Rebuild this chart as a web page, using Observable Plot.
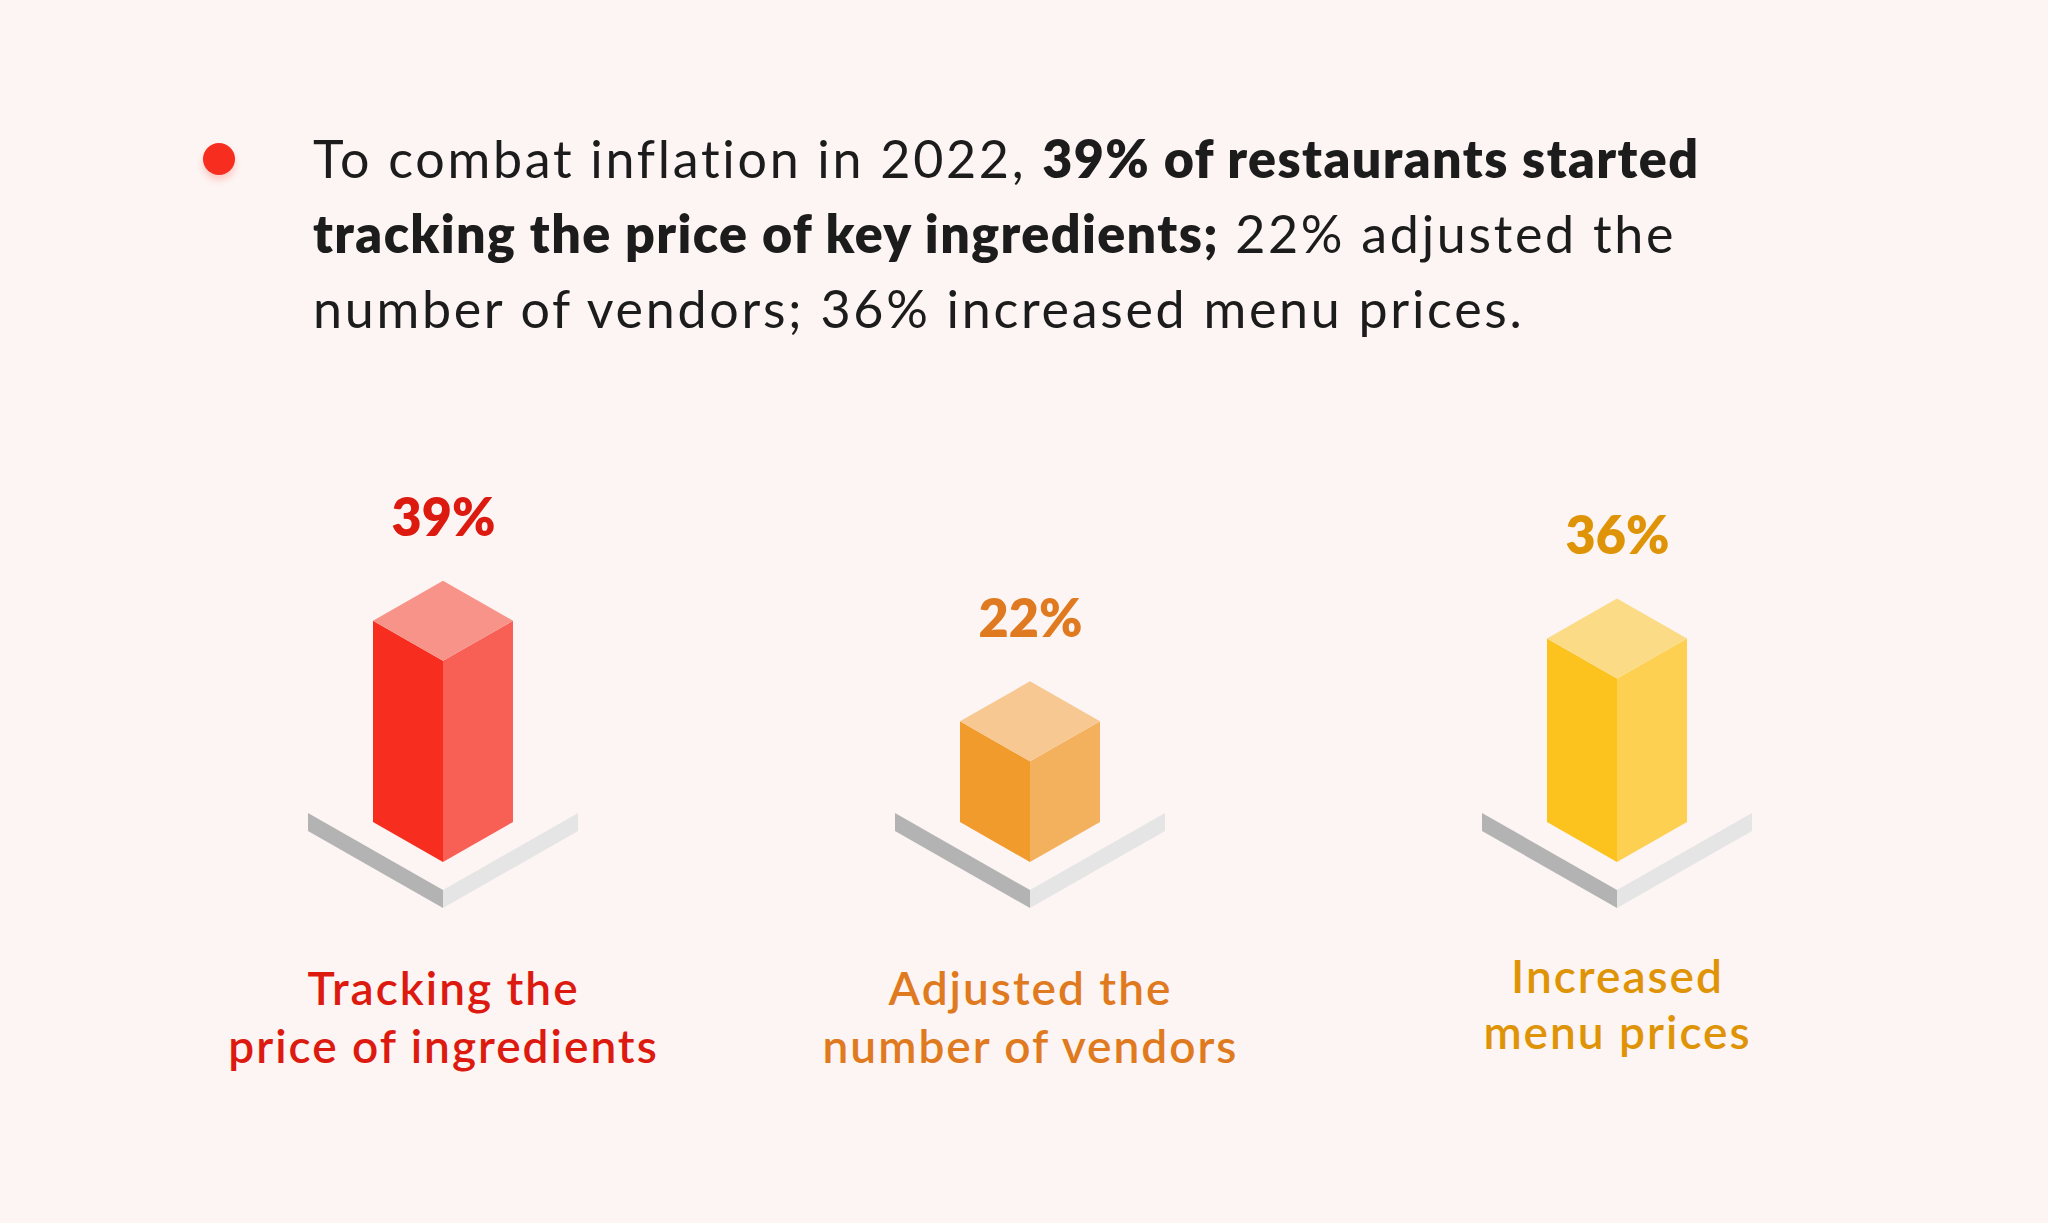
<!DOCTYPE html>
<html><head><meta charset="utf-8">
<script src="https://cdn.jsdelivr.net/npm/d3@7"></script>
<script src="https://cdn.jsdelivr.net/npm/@observablehq/plot@0.6"></script>
<style>
html,body{margin:0;padding:0;background:#fdf5f3;}
#wrap{position:relative;width:2048px;height:1223px;overflow:hidden;background:#fdf5f3;font-family:Lato,"Noto Sans",sans-serif;}
#bullet{position:absolute;left:203px;top:143px;width:32px;height:32px;border-radius:50%;background:#f72d20;box-shadow:0 5px 7px rgba(247,45,32,0.22);}
#header{position:absolute;left:313px;top:121px;width:1700px;font-size:52px;line-height:75px;color:#1c1c1c;white-space:nowrap;letter-spacing:2.7px;}
#header b{font-weight:800;letter-spacing:1.4px;}
#chart{position:absolute;left:0;top:400px;}
</style></head><body>
<div id="wrap">
<div id="bullet"></div>
<div id="header">To combat inflation in 2022, <b>39% of restaurants started<br>tracking the price of key ingredients;</b> 22% adjusted the<br>number of vendors; 36% increased menu prices.</div>
<div id="chart"></div>
</div>
<script>
const categories = ["Tracking the price of ingredients", "Adjusted the number of vendors", "Increased menu prices"];
const categoryLabels = ["Tracking the\nprice of ingredients", "Adjusted the\nnumber of vendors", "Increased\nmenu prices"];
const values = [39, 22, 36];
const valueLabels = ["39%", "22%", "36%"];
const leftColors = ["#f72d20", "#f09b2c", "#fcc21e"];
const rightColors = ["#f86056", "#f3b15d", "#fdd052"];
const topColors = ["#f8938a", "#f7c892", "#fcdb87"];
const textColors = ["#dc1a10", "#e07a20", "#df9407"];

const data = categories.map((c, i) => ({category: c, value: values[i], label: categoryLabels[i], vlabel: valueLabels[i], i}));

const W = 70, D = 40;       // cube half-width and iso depth (px)
const PW = 135, PD = 77, PT = 18, POFF = 68; // platform

function poly(pts) { return "M" + pts.map(p => p.join(",")).join("L") + "Z"; }

function cubes(index, scales, values, dimensions, context) {
  const g = d3.create("svg:g");
  const base = scales.y(5);
  for (const i of index) {
    const cx = values.x[i], top = values.y[i];
    const k = data[i].i;
    const pf = base + POFF; // platform front-top vertex
    g.append("path").attr("d", poly([[cx - PW, pf - PD], [cx, pf], [cx, pf + PT], [cx - PW, pf - PD + PT]])).attr("fill", "#b3b3b3");
    g.append("path").attr("d", poly([[cx, pf], [cx + PW, pf - PD], [cx + PW, pf - PD + PT], [cx, pf + PT]])).attr("fill", "#e5e5e5");
    g.append("path").attr("d", poly([[cx - W, top], [cx, top + D], [cx, base + D], [cx - W, base]])).attr("fill", leftColors[k]);
    g.append("path").attr("d", poly([[cx, top + D], [cx + W, top], [cx + W, base], [cx, base + D]])).attr("fill", rightColors[k]);
    g.append("path").attr("d", poly([[cx, top - D], [cx + W, top], [cx, top + D], [cx - W, top]])).attr("fill", topColors[k]);
  }
  return g.node();
}

const chart = Plot.plot({
  width: 2048,
  height: 823,
  margin: 0,
  style: {background: "transparent", fontFamily: "Lato, 'Noto Sans', sans-serif"},
  x: {type: "point", domain: categories, range: [443, 1617], padding: 0, axis: null},
  y: {domain: [5, 45], range: [422, 185.2], axis: null},
  color: {type: "identity"},
  marks: [
    Plot.dot(data, {x: "category", y: "value", render: cubes}),
    Plot.text(data, {x: "category", y: "value", text: "vlabel", dy: -102, fontSize: 52, fontWeight: 800, fill: d => textColors[d.i]}),
    Plot.text(data.filter(d => d.i < 2), {x: "category", text: "label", frameAnchor: "bottom", lineAnchor: "top", dy: -260, fontSize: 46, fontWeight: 600, lineHeight: 1.26, fill: d => textColors[d.i]}),
    Plot.text(data.filter(d => d.i === 2), {x: "category", text: "label", frameAnchor: "bottom", lineAnchor: "top", dy: -270, fontSize: 46, fontWeight: 600, lineHeight: 1.22, fill: d => textColors[d.i]})
  ]
});
const textGroups = chart.querySelectorAll('g[aria-label="text"]');
textGroups.forEach((g, j) => { if (j > 0) g.setAttribute("letter-spacing", "2px"); });
document.getElementById("chart").appendChild(chart);
</script>
</body></html>
